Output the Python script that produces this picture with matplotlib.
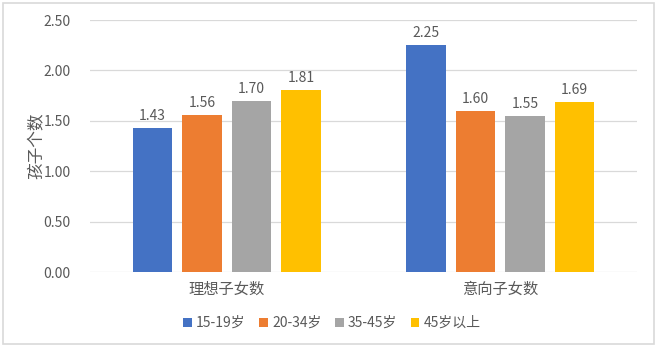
import numpy as np
import matplotlib.pyplot as plt
from matplotlib.patches import Rectangle

plt.rcParams['font.family'] = ['Noto Sans CJK SC', 'DejaVu Sans']

categories = ['理想子女数', '意向子女数']
series_names = ['15-19岁', '20-34岁', '35-45岁', '45岁以上']
values = [
    [1.43, 2.25],
    [1.56, 1.60],
    [1.70, 1.55],
    [1.81, 1.69],
]
colors = ['#4472C4', '#ED7D31', '#A5A5A5', '#FFC000']
yticks = [0.0, 0.5, 1.0, 1.5, 2.0, 2.5]

text_color = '#595959'

fig = plt.figure(figsize=(6.58, 3.48), dpi=100)
ax = fig.add_axes([90 / 658, 1 - 272 / 348, 547 / 658, 252 / 348])

x = np.arange(len(categories))
slot = 0.181
width = 0.143
for i, (name, vals) in enumerate(zip(series_names, values)):
    pos = x + (i - 1.5) * slot
    ax.bar(pos, vals, width=width, color=colors[i], label=name, zorder=3)
    for px, v in zip(pos, vals):
        ax.text(px, v + 0.05, f'{v:.2f}', ha='center', va='bottom',
                fontsize=10, color=text_color)

ax.set_xlim(-0.5, 1.5)
ax.set_ylim(0, 2.5)
ax.set_yticks(yticks)
ax.set_yticklabels([f'{t:.2f}' for t in yticks], fontsize=10, color=text_color)
ax.set_xticks(x)
ax.set_xticklabels(categories, fontsize=11, color=text_color)
ax.tick_params(axis='y', length=0, pad=14)
ax.tick_params(axis='x', length=0, pad=6)
ax.grid(axis='y', color='#D9D9D9', linewidth=0.9, zorder=0)
for s in ax.spines.values():
    s.set_visible(False)
ax.set_ylabel('孩子个数', fontsize=12, color=text_color)
ax.yaxis.set_label_coords(-0.082, 0.5)

leg = fig.legend(loc='center', bbox_to_anchor=(332 / 658, 1 - 323 / 348),
                 ncol=4, frameon=False, fontsize=10, handlelength=0.6,
                 handleheight=0.6, handletextpad=0.3, columnspacing=1.0)
for t in leg.get_texts():
    t.set_color(text_color)

# outer chart frame
fig.patches.append(Rectangle((3 / 658, 4 / 348), 651 / 658, 341 / 348,
                             transform=fig.transFigure, fill=False,
                             edgecolor='#D9D9D9', linewidth=1.2))

fig.savefig('out.png', dpi=100)
